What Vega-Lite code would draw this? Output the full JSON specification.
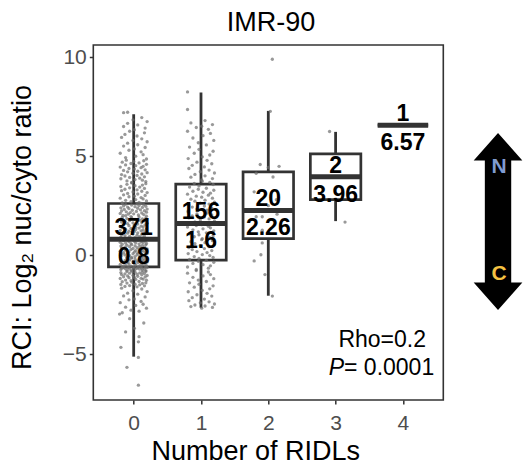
{
"$schema":"https://vega.github.io/schema/vega-lite/v6.json",
"width":350,"height":355,
"autosize":{"type":"none"},
"padding":{"left":93.3,"top":45,"right":79.7,"bottom":76},
"background":"white",
"config":{
"font":"Liberation Sans",
"view":{"stroke":"#333333","strokeWidth":1.6},
"axis":{"grid":false,"domain":false,"tickColor":"#333333","tickWidth":1.5,"tickSize":4,"labelColor":"#4d4d4d","labelFontSize":21,"labelFont":"Liberation Sans","titleFont":"Liberation Sans","titleFontSize":27,"titleFontWeight":"normal","titleColor":"black"}
},
"datasets":{
"boxes":[
{"g":0,"lo":-5.13,"q1":-0.59,"med":0.8,"q3":2.61,"hi":7.12,"n":371,"m":"0.8"},
{"g":1,"lo":-2.66,"q1":-0.25,"med":1.6,"q3":3.59,"hi":8.22,"n":156,"m":"1.6"},
{"g":2,"lo":-2.05,"q1":0.84,"med":2.26,"q3":4.21,"hi":7.29,"n":20,"m":"2.26"},
{"g":3,"lo":1.72,"q1":2.81,"med":3.96,"q3":5.12,"hi":6.23,"n":2,"m":"3.96"},
{"g":4,"lo":6.57,"q1":6.57,"med":6.57,"q3":6.57,"hi":6.57,"n":1,"m":"6.57"}
],
"pts":[
{"x":0.07,"y":-6.57},{"x":-0.1,"y":-5.67},{"x":0.07,"y":-5.17},{"x":-0.19,"y":-4.66},{"x":0.07,"y":-4.38},{"x":0.08,"y":-4.12},{"x":-0.12,"y":-3.88},{"x":0.01,"y":-3.7},{"x":0.15,"y":-3.43},{"x":-0.06,"y":-3.21},{"x":-0.21,"y":-2.98},
{"x":-0.17,"y":-2.91},{"x":0.08,"y":-2.83},{"x":-0.04,"y":-2.78},{"x":0.19,"y":-2.68},{"x":-0.12,"y":-2.63},{"x":0.03,"y":-2.54},{"x":0.14,"y":-2.48},{"x":-0.2,"y":-2.4},{"x":0.11,"y":-2.34},{"x":-0.07,"y":-2.26},{"x":0.01,"y":-2.21},{"x":0.17,"y":-2.11},{"x":-0.15,"y":-2.06},{"x":0.06,"y":-1.97},{"x":-0.09,"y":-1.92},{"x":0.2,"y":-1.84},{"x":-0.01,"y":-1.8},{"x":0.12,"y":-1.71},{"x":-0.18,"y":-1.67},{"x":0.05,"y":-1.6},
{"x":-0.13,"y":-1.58},{"x":0.16,"y":-1.55},{"x":-0.06,"y":-1.54},{"x":0.09,"y":-1.5},{"x":-0.19,"y":-1.48},{"x":0.02,"y":-1.47},{"x":0.13,"y":-1.43},{"x":-0.1,"y":-1.41},{"x":0.18,"y":-1.4},{"x":-0.03,"y":-1.36},
{"x":-0.17,"y":-1.34},{"x":0.08,"y":-1.33},{"x":-0.04,"y":-1.29},{"x":0.19,"y":-1.27},{"x":-0.12,"y":-1.26},{"x":0.03,"y":-1.22},{"x":0.14,"y":-1.21},{"x":-0.2,"y":-1.18},{"x":0.11,"y":-1.17},{"x":-0.07,"y":-1.14},{"x":0.01,"y":-1.13},{"x":0.17,"y":-1.1},{"x":-0.15,"y":-1.09},{"x":0.06,"y":-1.07},{"x":-0.09,"y":-1.05},{"x":0.2,"y":-1.03},{"x":-0.01,"y":-1.02},{"x":0.12,"y":-0.99},{"x":-0.18,"y":-0.98},{"x":0.05,"y":-0.96},{"x":-0.13,"y":-0.95},{"x":0.16,"y":-0.93},{"x":-0.06,"y":-0.91},{"x":0.09,"y":-0.9},{"x":-0.19,"y":-0.88},{"x":0.02,"y":-0.86},{"x":0.13,"y":-0.85},{"x":-0.1,"y":-0.83},{"x":0.18,"y":-0.82},{"x":-0.03,"y":-0.8},
{"x":-0.03,"y":-0.79},{"x":0.18,"y":-0.78},{"x":-0.1,"y":-0.76},{"x":0.13,"y":-0.75},{"x":0.02,"y":-0.73},{"x":-0.19,"y":-0.73},{"x":0.09,"y":-0.71},{"x":-0.06,"y":-0.7},{"x":0.16,"y":-0.69},{"x":-0.13,"y":-0.68},{"x":0.05,"y":-0.67},{"x":-0.18,"y":-0.66},{"x":0.12,"y":-0.65},{"x":-0.01,"y":-0.64},{"x":0.2,"y":-0.63},{"x":-0.09,"y":-0.63},{"x":0.06,"y":-0.62},{"x":-0.15,"y":-0.61},{"x":0.17,"y":-0.6},{"x":0.01,"y":-0.6},{"x":-0.07,"y":-0.59},{"x":0.11,"y":-0.59},
{"x":-0.17,"y":-0.58},{"x":0.08,"y":-0.56},{"x":-0.04,"y":-0.55},{"x":0.19,"y":-0.53},{"x":-0.12,"y":-0.52},{"x":0.03,"y":-0.5},{"x":0.14,"y":-0.49},{"x":-0.2,"y":-0.47},{"x":0.11,"y":-0.46},{"x":-0.07,"y":-0.44},
{"x":0.01,"y":-0.43},{"x":0.17,"y":-0.41},{"x":-0.15,"y":-0.4},{"x":0.06,"y":-0.38},{"x":-0.09,"y":-0.37},{"x":0.2,"y":-0.35},{"x":-0.01,"y":-0.34},{"x":0.12,"y":-0.32},{"x":-0.18,"y":-0.31},{"x":0.05,"y":-0.29},
{"x":-0.13,"y":-0.28},{"x":0.16,"y":-0.26},{"x":-0.06,"y":-0.25},{"x":0.09,"y":-0.23},{"x":-0.19,"y":-0.22},{"x":0.02,"y":-0.2},{"x":0.13,"y":-0.19},{"x":-0.1,"y":-0.17},{"x":0.18,"y":-0.16},{"x":-0.03,"y":-0.14},
{"x":-0.03,"y":-0.13},{"x":0.18,"y":-0.11},{"x":-0.1,"y":-0.1},{"x":0.13,"y":-0.08},{"x":0.02,"y":-0.07},{"x":-0.19,"y":-0.05},{"x":0.09,"y":-0.04},{"x":-0.06,"y":-0.02},{"x":0.16,"y":-0.01},{"x":-0.13,"y":0.01},
{"x":0.05,"y":0.02},{"x":-0.18,"y":0.04},{"x":0.12,"y":0.05},{"x":-0.01,"y":0.07},{"x":0.2,"y":0.08},{"x":-0.09,"y":0.1},{"x":0.06,"y":0.11},{"x":-0.15,"y":0.13},{"x":0.17,"y":0.14},{"x":0.01,"y":0.16},
{"x":-0.07,"y":0.17},{"x":0.11,"y":0.19},{"x":-0.2,"y":0.2},{"x":0.14,"y":0.22},{"x":0.03,"y":0.23},{"x":-0.12,"y":0.25},{"x":0.19,"y":0.26},{"x":-0.04,"y":0.28},{"x":0.08,"y":0.29},{"x":-0.17,"y":0.31},
{"x":0.2,"y":0.32},{"x":-0.01,"y":0.34},{"x":0.12,"y":0.35},{"x":-0.18,"y":0.37},{"x":0.05,"y":0.38},{"x":-0.13,"y":0.4},{"x":0.16,"y":0.41},{"x":-0.06,"y":0.43},{"x":0.09,"y":0.44},{"x":-0.19,"y":0.46},{"x":0.02,"y":0.47},{"x":0.13,"y":0.49},{"x":-0.1,"y":0.5},{"x":0.18,"y":0.52},{"x":-0.03,"y":0.53},
{"x":-0.17,"y":0.55},{"x":0.08,"y":0.56},{"x":-0.04,"y":0.58},{"x":0.19,"y":0.59},{"x":-0.12,"y":0.61},{"x":0.03,"y":0.62},{"x":0.14,"y":0.64},{"x":-0.2,"y":0.65},{"x":0.11,"y":0.67},{"x":-0.07,"y":0.68},{"x":0.01,"y":0.7},{"x":0.17,"y":0.71},{"x":-0.15,"y":0.73},{"x":0.06,"y":0.74},{"x":-0.09,"y":0.76},
{"x":0.1,"y":0.77},{"x":-0.14,"y":0.78},{"x":0.04,"y":0.79},
{"x":-0.03,"y":0.81},{"x":0.18,"y":0.83},{"x":-0.1,"y":0.85},{"x":0.13,"y":0.87},{"x":0.02,"y":0.89},{"x":-0.19,"y":0.91},{"x":0.09,"y":0.93},{"x":-0.06,"y":0.95},{"x":0.16,"y":0.97},{"x":-0.13,"y":0.99},
{"x":0.05,"y":1.01},{"x":-0.18,"y":1.03},{"x":0.12,"y":1.05},{"x":-0.01,"y":1.07},{"x":0.2,"y":1.09},{"x":-0.09,"y":1.11},{"x":0.06,"y":1.13},{"x":-0.15,"y":1.15},{"x":0.17,"y":1.17},{"x":0.01,"y":1.19},
{"x":-0.07,"y":1.21},{"x":0.11,"y":1.23},{"x":-0.2,"y":1.25},{"x":0.14,"y":1.27},{"x":0.03,"y":1.29},{"x":-0.12,"y":1.31},{"x":0.19,"y":1.33},{"x":-0.04,"y":1.35},{"x":0.08,"y":1.37},{"x":-0.17,"y":1.39},
{"x":0.03,"y":1.41},{"x":0.14,"y":1.43},{"x":-0.2,"y":1.45},{"x":0.11,"y":1.47},{"x":-0.07,"y":1.49},{"x":0.01,"y":1.51},{"x":0.17,"y":1.53},{"x":-0.15,"y":1.55},{"x":0.06,"y":1.57},{"x":-0.09,"y":1.59},
{"x":0.2,"y":1.61},{"x":-0.01,"y":1.63},{"x":0.12,"y":1.65},{"x":-0.18,"y":1.67},{"x":0.05,"y":1.69},{"x":-0.13,"y":1.71},{"x":0.16,"y":1.73},{"x":-0.06,"y":1.75},{"x":0.09,"y":1.77},{"x":-0.19,"y":1.79},
{"x":0.02,"y":1.81},{"x":0.13,"y":1.83},{"x":-0.1,"y":1.85},{"x":0.18,"y":1.87},{"x":-0.03,"y":1.89},{"x":-0.17,"y":1.91},{"x":0.08,"y":1.93},{"x":-0.04,"y":1.95},{"x":0.19,"y":1.97},{"x":-0.12,"y":1.99},
{"x":-0.16,"y":2.01},{"x":0.07,"y":2.03},{"x":0.15,"y":2.05},{"x":-0.08,"y":2.07},{"x":0.0,"y":2.09},{"x":-0.2,"y":2.11},{"x":0.12,"y":2.13},{"x":-0.05,"y":2.15},{"x":0.19,"y":2.17},{"x":-0.11,"y":2.19},
{"x":0.04,"y":2.21},{"x":-0.18,"y":2.23},{"x":0.16,"y":2.25},{"x":-0.02,"y":2.27},{"x":0.1,"y":2.29},{"x":-0.14,"y":2.31},{"x":0.2,"y":2.33},{"x":-0.07,"y":2.35},{"x":0.06,"y":2.37},{"x":-0.19,"y":2.39},
{"x":0.13,"y":2.41},{"x":-0.09,"y":2.43},{"x":0.02,"y":2.45},{"x":0.18,"y":2.47},{"x":-0.15,"y":2.49},{"x":0.08,"y":2.51},{"x":-0.03,"y":2.53},{"x":0.15,"y":2.55},{"x":-0.12,"y":2.57},{"x":0.05,"y":2.59},
{"x":-0.17,"y":2.6},{"x":0.11,"y":2.61},
{"x":-0.17,"y":2.64},{"x":0.08,"y":2.67},{"x":-0.04,"y":2.7},{"x":0.19,"y":2.74},{"x":-0.12,"y":2.77},{"x":0.03,"y":2.81},{"x":0.14,"y":2.84},{"x":-0.2,"y":2.88},{"x":0.11,"y":2.91},{"x":-0.07,"y":2.95},{"x":0.01,"y":2.98},{"x":0.17,"y":3.02},{"x":-0.15,"y":3.05},{"x":0.06,"y":3.09},{"x":-0.09,"y":3.12},{"x":0.2,"y":3.16},{"x":-0.01,"y":3.19},{"x":0.12,"y":3.23},{"x":-0.18,"y":3.26},{"x":0.05,"y":3.3},{"x":-0.13,"y":3.33},{"x":0.16,"y":3.37},{"x":-0.06,"y":3.4},{"x":0.09,"y":3.44},{"x":-0.19,"y":3.47},{"x":0.02,"y":3.51},{"x":0.13,"y":3.54},{"x":-0.1,"y":3.58},{"x":0.18,"y":3.61},{"x":-0.03,"y":3.65},
{"x":-0.03,"y":3.68},{"x":0.18,"y":3.72},{"x":-0.1,"y":3.75},{"x":0.13,"y":3.79},{"x":0.02,"y":3.82},{"x":-0.19,"y":3.86},{"x":0.09,"y":3.89},{"x":-0.06,"y":3.93},{"x":0.16,"y":3.96},{"x":-0.13,"y":4.0},{"x":0.05,"y":4.03},{"x":-0.18,"y":4.07},{"x":0.12,"y":4.1},{"x":-0.01,"y":4.14},{"x":0.2,"y":4.17},{"x":-0.09,"y":4.21},{"x":0.06,"y":4.24},{"x":-0.15,"y":4.28},{"x":0.17,"y":4.31},{"x":0.01,"y":4.35},{"x":-0.07,"y":4.38},{"x":0.11,"y":4.42},{"x":-0.2,"y":4.45},{"x":0.14,"y":4.49},{"x":0.03,"y":4.52},{"x":-0.12,"y":4.56},{"x":0.19,"y":4.59},{"x":-0.04,"y":4.63},{"x":0.08,"y":4.66},{"x":-0.17,"y":4.7},
{"x":0.0,"y":4.73},{"x":0.15,"y":4.77},{"x":-0.11,"y":4.8},
{"x":0.19,"y":4.86},{"x":-0.12,"y":4.93},{"x":0.03,"y":5.0},{"x":0.14,"y":5.08},{"x":-0.2,"y":5.15},{"x":0.11,"y":5.22},{"x":-0.07,"y":5.3},{"x":0.01,"y":5.37},{"x":0.17,"y":5.44},{"x":-0.15,"y":5.51},{"x":0.06,"y":5.58},{"x":-0.09,"y":5.66},{"x":0.2,"y":5.73},{"x":-0.01,"y":5.8},{"x":0.12,"y":5.88},{"x":-0.18,"y":5.95},{"x":0.05,"y":6.02},{"x":-0.13,"y":6.1},{"x":0.16,"y":6.18},{"x":-0.06,"y":6.26},
{"x":0.01,"y":6.34},{"x":0.17,"y":6.42},{"x":-0.15,"y":6.5},{"x":0.06,"y":6.58},{"x":-0.09,"y":6.66},{"x":0.2,"y":6.75},{"x":-0.01,"y":6.84},{"x":0.12,"y":6.95},{"x":-0.15,"y":7.2},{"x":-0.09,"y":7.22},
{"x":1.01,"y":-2.68},{"x":1.17,"y":-2.64},{"x":0.85,"y":-2.6},{"x":1.06,"y":-2.57},{"x":0.91,"y":-2.52},{"x":1.2,"y":-2.47},{"x":0.99,"y":-2.41},{"x":1.12,"y":-2.36},{"x":0.82,"y":-2.3},{"x":1.05,"y":-2.22},{"x":0.87,"y":-2.15},{"x":1.16,"y":-2.07},{"x":0.94,"y":-2.0},{"x":1.09,"y":-1.93},{"x":0.81,"y":-1.85},{"x":1.02,"y":-1.78},{"x":1.13,"y":-1.7},{"x":0.9,"y":-1.62},{"x":1.18,"y":-1.55},{"x":0.97,"y":-1.47},{"x":0.83,"y":-1.4},{"x":1.08,"y":-1.33},{"x":0.96,"y":-1.26},{"x":1.19,"y":-1.19},{"x":0.88,"y":-1.12},{"x":1.03,"y":-1.05},{"x":1.14,"y":-0.98},{"x":0.8,"y":-0.91},{"x":1.11,"y":-0.85},{"x":0.93,"y":-0.78},
{"x":0.93,"y":-0.72},{"x":1.11,"y":-0.66},{"x":0.8,"y":-0.6},{"x":1.14,"y":-0.54},{"x":1.03,"y":-0.48},{"x":0.88,"y":-0.42},{"x":1.19,"y":-0.36},{"x":0.96,"y":-0.31},{"x":1.08,"y":-0.26},{"x":0.83,"y":-0.22},{"x":0.97,"y":-0.17},{"x":1.18,"y":-0.12},{"x":0.9,"y":-0.07},{"x":1.13,"y":-0.02},{"x":1.02,"y":0.03},{"x":0.81,"y":0.08},{"x":1.09,"y":0.13},{"x":0.94,"y":0.18},{"x":1.16,"y":0.23},{"x":0.87,"y":0.28},{"x":1.05,"y":0.33},{"x":0.82,"y":0.38},{"x":1.12,"y":0.43},{"x":0.99,"y":0.48},{"x":1.2,"y":0.53},{"x":0.91,"y":0.58},{"x":1.06,"y":0.63},{"x":0.85,"y":0.68},{"x":1.17,"y":0.73},{"x":1.01,"y":0.78},
{"x":1.02,"y":0.83},{"x":1.13,"y":0.88},{"x":0.9,"y":0.93},{"x":1.18,"y":0.98},{"x":0.97,"y":1.03},{"x":0.83,"y":1.08},{"x":1.08,"y":1.13},{"x":0.96,"y":1.18},{"x":1.19,"y":1.23},{"x":0.88,"y":1.28},{"x":1.03,"y":1.33},{"x":1.14,"y":1.38},{"x":0.8,"y":1.42},{"x":1.11,"y":1.46},{"x":0.93,"y":1.5},{"x":1.01,"y":1.54},{"x":1.17,"y":1.57},{"x":0.85,"y":1.6},{"x":1.06,"y":1.63},{"x":0.91,"y":1.68},{"x":1.2,"y":1.73},{"x":0.99,"y":1.78},{"x":1.12,"y":1.83},{"x":0.82,"y":1.88},{"x":1.05,"y":1.93},{"x":0.87,"y":1.98},{"x":1.16,"y":2.03},{"x":0.94,"y":2.08},{"x":1.09,"y":2.13},{"x":0.81,"y":2.18},
{"x":0.81,"y":2.23},{"x":1.09,"y":2.28},{"x":0.94,"y":2.33},{"x":1.16,"y":2.38},{"x":0.87,"y":2.43},{"x":1.05,"y":2.48},{"x":0.82,"y":2.53},{"x":1.12,"y":2.58},{"x":0.99,"y":2.63},{"x":1.2,"y":2.68},{"x":0.91,"y":2.73},{"x":1.06,"y":2.78},{"x":0.85,"y":2.83},{"x":1.17,"y":2.88},{"x":1.01,"y":2.93},{"x":0.93,"y":2.98},{"x":1.11,"y":3.03},{"x":0.8,"y":3.08},{"x":1.14,"y":3.13},{"x":1.03,"y":3.18},{"x":0.88,"y":3.23},{"x":1.19,"y":3.28},{"x":0.96,"y":3.33},{"x":1.08,"y":3.38},{"x":0.83,"y":3.44},{"x":0.97,"y":3.5},{"x":1.18,"y":3.57},{"x":0.9,"y":3.62},{"x":1.13,"y":3.68},{"x":1.02,"y":3.74},
{"x":1.01,"y":3.8},{"x":1.17,"y":3.87},{"x":0.85,"y":3.94},{"x":1.06,"y":4.01},{"x":0.91,"y":4.08},{"x":1.2,"y":4.15},{"x":0.99,"y":4.22},{"x":1.12,"y":4.3},{"x":0.82,"y":4.38},{"x":1.05,"y":4.46},{"x":0.87,"y":4.54},{"x":1.16,"y":4.62},{"x":0.94,"y":4.7},{"x":1.09,"y":4.79},{"x":0.81,"y":4.88},{"x":1.02,"y":4.97},{"x":1.13,"y":5.06},{"x":0.9,"y":5.15},{"x":1.18,"y":5.25},{"x":0.97,"y":5.35},{"x":0.83,"y":5.46},{"x":1.08,"y":5.57},{"x":0.96,"y":5.68},{"x":1.19,"y":5.8},{"x":0.88,"y":5.92},{"x":1.03,"y":6.04},{"x":1.14,"y":6.15},{"x":0.8,"y":6.26},{"x":1.11,"y":6.36},{"x":0.93,"y":6.45},
{"x":1.01,"y":6.52},{"x":1.17,"y":6.6},{"x":0.85,"y":6.68},{"x":1.06,"y":6.8},{"x":0.8,"y":7.36},{"x":0.8,"y":8.25},
{"x":2.06,"y":9.9},{"x":2.03,"y":7.27},{"x":1.88,"y":4.58},{"x":2.16,"y":4.49},{"x":1.82,"y":4.14},{"x":2.07,"y":3.95},{"x":2.0,"y":4.43},{"x":1.79,"y":3.2},{"x":1.82,"y":1.94},{"x":1.91,"y":1.94},{"x":2.13,"y":2.07},{"x":2.0,"y":2.5},{"x":1.91,"y":1.26},{"x":1.91,"y":0.62},{"x":1.89,"y":0.02},{"x":1.79,"y":-0.29},{"x":1.95,"y":-0.98},{"x":2.06,"y":-2.07},{"x":2.12,"y":2.8},{"x":1.86,"y":2.26},
{"x":2.91,"y":6.25},{"x":3.14,"y":1.67},
{"x":4.11,"y":6.57}
]
},
"layer":[
{"data":{"name":"boxes"},"mark":{"type":"rule","color":"#333333","strokeWidth":2.8},
"encoding":{
"x":{"field":"g","type":"quantitative","scale":{"domain":[-0.6,4.6],"nice":false,"zero":false,"padding":0},"axis":{"values":[0,1,2,3,4],"format":"d","labelPadding":8,"title":"Number of RIDLs","titlePadding":5,"titleX":162}},
"y":{"field":"q3","type":"quantitative","scale":{"domain":[-7.32,10.62],"nice":false,"zero":false,"padding":0},"axis":{"values":[-5,0,5,10],"labelPadding":3,"title":"RCI: Log₂ nuc/cyto ratio","titlePadding":26,"titleY":182}},
"y2":{"field":"hi"}}},
{"data":{"name":"boxes"},"mark":{"type":"rule","color":"#333333","strokeWidth":2.8},
"encoding":{"x":{"field":"g","type":"quantitative"},"y":{"field":"lo","type":"quantitative"},"y2":{"field":"q1"}}},
{"data":{"name":"boxes"},"mark":{"type":"bar","size":50.5,"fill":"white","stroke":"#333333","strokeWidth":2.7},
"encoding":{"x":{"field":"g","type":"quantitative"},"y":{"field":"q1","type":"quantitative"},"y2":{"field":"q3"}}},
{"data":{"name":"pts"},"mark":{"type":"point","filled":true,"color":"#6e6e6e","opacity":0.7,"size":11,"strokeWidth":0},
"encoding":{"x":{"field":"x","type":"quantitative"},"y":{"field":"y","type":"quantitative"}}},
{"data":{"name":"boxes"},"mark":{"type":"tick","orient":"horizontal","size":50.5,"thickness":5,"color":"#333333","opacity":1},
"encoding":{"x":{"field":"g","type":"quantitative"},"y":{"field":"med","type":"quantitative"}}},
{"data":{"name":"boxes"},"mark":{"type":"text","baseline":"alphabetic","dy":-4,"fontSize":23,"fontWeight":"bold","color":"black","font":"Liberation Sans"},
"encoding":{"x":{"field":"g","type":"quantitative"},"y":{"field":"med","type":"quantitative"},"text":{"field":"n","type":"nominal"}}},
{"data":{"name":"boxes"},"mark":{"type":"text","baseline":"top","dy":7,"fontSize":23,"fontWeight":"bold","color":"black","font":"Liberation Sans"},
"encoding":{"x":{"field":"g","type":"quantitative"},"y":{"field":"med","type":"quantitative"},"text":{"field":"m","type":"nominal"}}},
{"data":{"values":[{}]},"mark":{"type":"text","align":"center","baseline":"alphabetic","fontSize":27,"color":"black","font":"Liberation Sans","text":"IMR-90"},
"encoding":{"x":{"datum":2.04,"type":"quantitative"},"y":{"datum":11.33,"type":"quantitative"}}},
{"data":{"values":[{}]},"mark":{"type":"text","align":"right","baseline":"alphabetic","fontSize":23,"color":"black","font":"Liberation Sans","text":"Rho=0.2"},
"encoding":{"x":{"datum":4.343,"type":"quantitative"},"y":{"datum":-4.62,"type":"quantitative"}}},
{"data":{"values":[{}]},"mark":{"type":"text","align":"right","baseline":"alphabetic","fontSize":23,"fontStyle":"italic","color":"black","font":"Liberation Sans","text":"P"},
"encoding":{"x":{"datum":3.125,"type":"quantitative"},"y":{"datum":-6.05,"type":"quantitative"}}},
{"data":{"values":[{}]},"mark":{"type":"text","align":"left","baseline":"alphabetic","fontSize":23,"color":"black","font":"Liberation Sans","text":"= 0.0001"},
"encoding":{"x":{"datum":3.125,"type":"quantitative"},"y":{"datum":-6.05,"type":"quantitative"}}},
{"data":{"values":[{}]},"mark":{"type":"point","shape":"M0,-1L0.275,-0.69L0.149,-0.69L0.149,0.69L0.275,0.69L0,1L-0.275,0.69L-0.149,0.69L-0.149,-0.69L-0.275,-0.69Z","filled":true,"color":"black","opacity":1,"size":31329,"strokeWidth":0},
"encoding":{"x":{"datum":5.413,"type":"quantitative"},"y":{"datum":1.7,"type":"quantitative"}}},
{"data":{"values":[{}]},"mark":{"type":"text","align":"center","baseline":"middle","fontSize":21,"fontWeight":"bold","color":"#7f9bd0","font":"Liberation Sans","text":"N"},
"encoding":{"x":{"datum":5.43,"type":"quantitative"},"y":{"datum":4.47,"type":"quantitative"}}},
{"data":{"values":[{}]},"mark":{"type":"text","align":"center","baseline":"middle","fontSize":21,"fontWeight":"bold","color":"#f5c242","font":"Liberation Sans","text":"C"},
"encoding":{"x":{"datum":5.43,"type":"quantitative"},"y":{"datum":-0.95,"type":"quantitative"}}}
]
}
